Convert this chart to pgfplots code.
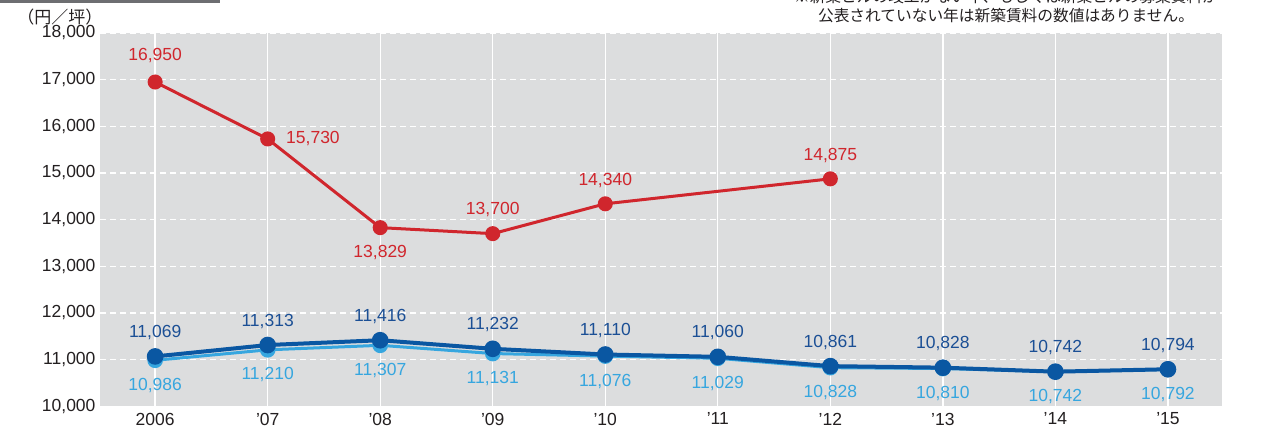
\documentclass[border=0pt]{standalone}
\usepackage{pgfplots}
\pgfplotsset{compat=1.18}
\usepackage{fontspec}
\setmainfont{Liberation Sans}
\newfontfamily\cjk{Noto Sans CJK JP}
\definecolor{bg}{HTML}{DCDDDE}
\definecolor{cred}{HTML}{D0262D}
\definecolor{dblue}{HTML}{0A57A2}
\definecolor{dbluetxt}{HTML}{1B4F95}
\definecolor{lblue}{HTML}{36A6DF}
\definecolor{txt}{HTML}{231F20}
\definecolor{barg}{HTML}{6D6E71}
\newcommand{\lf}{\fontsize{17.5}{20}\selectfont}
\begin{document}
\begin{tikzpicture}
\begin{axis}[
  at={(0,0)}, anchor=south west, scale only axis,
  width=1122pt, height=373.3pt,
  xmin=-0.49, xmax=9.48, ymin=10000, ymax=18000,
  axis background/.style={fill=bg},
  axis line style={draw=none},
  xtick={0,...,9},
  xticklabels={2006,’07,’08,’09,’10,’11,’12,’13,’14,’15},
  ytick={10000,11000,...,18000},
  scaled y ticks=false,
  yticklabel style={/pgf/number format/fixed, xshift=-1pt},
  major tick length=0pt,
  xmajorgrids, ymajorgrids,
  x grid style={white, line width=1.3pt},
  y grid style={white, line width=1.2pt, dash pattern=on 6pt off 4pt},
  tick label style={font=\lf, text=txt},
  xticklabel style={yshift=-3pt},
  clip=false,
  /pgf/number format/1000 sep={,},
  /pgf/number format/assume math mode=true,
]
% light blue
\addplot[lblue, line width=3pt, mark=*, mark size=6.3pt,
  mark options={solid, fill=lblue, draw=lblue},
  nodes near coords, point meta=y,
  nodes near coords style={anchor=center, yshift=-25pt, font=\lf, text=lblue}]
  coordinates {(0,10986) (1,11210) (2,11307) (3,11131) (4,11076) (5,11029) (6,10828) (7,10810) (8,10742) (9,10792)};
% dark blue
\addplot[dblue, line width=4pt, mark=*, mark size=6.3pt,
  mark options={solid, fill=dblue, draw=dblue},
  nodes near coords, point meta=y,
  nodes near coords style={anchor=center, yshift=24pt, font=\lf, text=dbluetxt}]
  coordinates {(0,11069) (1,11313) (2,11416) (3,11232) (4,11110) (5,11060) (6,10861) (7,10828) (8,10742) (9,10794)};
% red
\addplot[cred, line width=3pt, mark=*, mark size=6pt,
  mark options={solid, fill=cred, draw=cred}]
  coordinates {(0,16950) (1,15730) (2,13829) (3,13700) (4,14340) (6,14875)};
\node[font=\lf, text=cred, anchor=center, yshift=26pt] at (axis cs:0,16950) {16,950};
\node[font=\lf, text=cred, anchor=west, xshift=15pt] at (axis cs:1,15730) {15,730};
\node[font=\lf, text=cred, anchor=center, yshift=-25pt] at (axis cs:2,13829) {13,829};
\node[font=\lf, text=cred, anchor=center, yshift=24pt] at (axis cs:3,13700) {13,700};
\node[font=\lf, text=cred, anchor=center, yshift=23pt] at (axis cs:4,14340) {14,340};
\node[font=\lf, text=cred, anchor=center, yshift=23pt] at (axis cs:6,14875) {14,875};
\end{axis}
\fill[barg] (-100pt,403.3pt) rectangle (120pt,406.3pt);
\node[font=\cjk\fontsize{17}{20}\selectfont, text=txt, anchor=center] at (-40pt,389pt) {（円／坪）};
\node[font=\cjk\fontsize{15.7}{18}\selectfont, text=txt, anchor=center] at (906pt,390.3pt) {公表されていない年は新築賃料の数値はありません。};
\node[font=\cjk\fontsize{15.7}{18}\selectfont, text=txt, anchor=center] at (906pt,409.8pt) {※新築ビルの竣工がない年、もしくは新築ビルの募集賃料が};
\pgfresetboundingbox
\useasboundingbox (-100pt,-28.3pt) rectangle (1165pt,406.3pt);
\end{tikzpicture}
\end{document}
